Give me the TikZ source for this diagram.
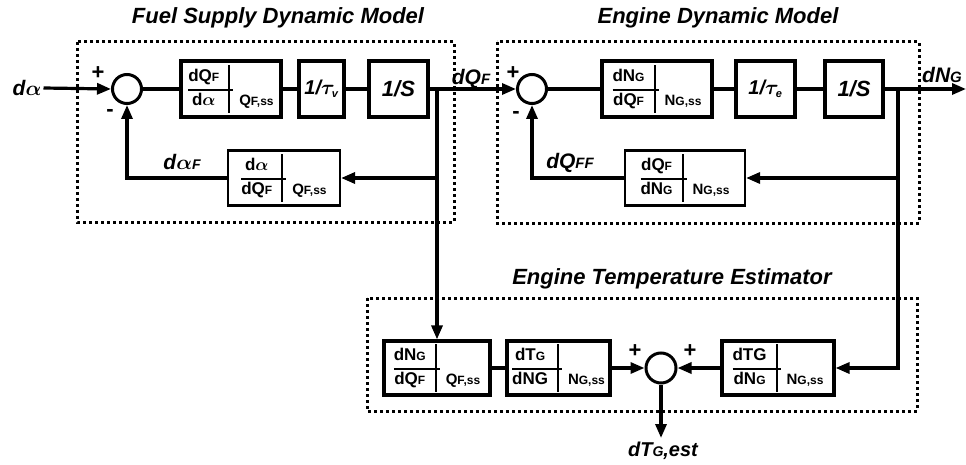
\documentclass[tikz,border=0pt]{standalone}
\usepackage{amsmath}
\usepackage{array}
\usepackage{bm}
\usepackage{fontspec}
\setmainfont{Liberation Sans}
\usetikzlibrary{arrows.meta}
\newcommand{\sm}[2][12]{{\fontsize{#1}{#1}\selectfont #2}}
\newcommand{\ev}[3]{{\setlength{\arrayrulewidth}{1.6pt}\renewcommand{\arraystretch}{1.25}%
\begin{tabular}{@{}c!{\hspace{3pt}\vrule width 2pt\hspace{3pt}}l@{}}
#1 & \\ \cline{1-1}
#2 & #3
\end{tabular}}}
\begin{document}
\begin{tikzpicture}[x=1pt,y=-1pt,
 ln/.style={line width=3.2pt},
 arr/.style={ln, -{Triangle[length=14pt,width=11pt]}},
 blk/.style={draw, line width=3.2pt, inner sep=0pt, minimum height=56pt, font=\bfseries\fontsize{17}{19}\selectfont},
 fbk/.style={blk, line width=2.2pt, minimum height=55pt},
 sumc/.style={draw, circle, line width=3pt, minimum size=29pt, inner sep=0pt},
 grp/.style={draw, line width=3pt, dash pattern=on 3pt off 3pt},
 ttl/.style={font=\bfseries\itshape\fontsize{22}{22}\selectfont, inner sep=0pt},
 lbl/.style={font=\bfseries\itshape\fontsize{21}{21}\selectfont, inner sep=0pt},
 sgn/.style={font=\bfseries\fontsize{22}{22}\selectfont, inner sep=0pt}]
\useasboundingbox (0,0) rectangle (966,465);

% group frames
\draw[grp] (77,42) rectangle (454,222);
\draw[grp] (497,42) rectangle (919,223);
\draw[grp] (367,298) rectangle (917,411);
\node[ttl] (t1) at (278,18) {Fuel Supply Dynamic Model};
\node[ttl] (t2) at (718,18) {Engine Dynamic Model};
\node[ttl] (t3) at (672,279) {Engine Temperature Estimator};

% fuel supply model
\node[lbl] (da) at (27,88) {d$\bm{\alpha}$};
\node[sumc] (s1) at (127,89) {};
\node[blk, minimum width=100pt] (b1) at (231,89) {\ev{dQ\sm{F}}{d$\bm{\alpha}$}{\sm[15]{Q}\sm{F,ss}}};
\node[blk, minimum width=45pt, font=\bfseries\itshape\fontsize{20}{20}\selectfont] (b2) at (321.5,89) {1/$\bm{\tau}_{\text{\sm[11]{v}}}$};
\node[blk, minimum width=59pt, font=\bfseries\itshape\fontsize{22}{22}\selectfont] (b3) at (398.5,89) {1/S};
\coordinate (br1) at (437,89);
\node[fbk, minimum width=112pt] (f1) at (284,178) {\ev{d$\bm{\alpha}$}{dQ\sm{F}}{\sm[15]{Q}\sm{F,ss}}};
\node[lbl] (daF) at (182,162) {d$\bm{\alpha}$\sm[14]{F}};
\node[sgn] (p1) at (98,73) {+};
\node[sgn] (m1) at (110,113) {-};
\node[lbl] (dQF) at (471,79) {dQ\sm[15]{F}};

% engine model
\node[sumc] (s2) at (532,89) {};
\node[blk, minimum width=110pt] (e1) at (657,89) {\ev{dN\sm{G}}{dQ\sm{F}}{\sm[15]{N}\sm{G,ss}}};
\node[blk, minimum width=59pt, font=\bfseries\itshape\fontsize{20}{20}\selectfont] (e2) at (765.5,89) {1/$\bm{\tau}_{\text{\sm[11]{e}}}$};
\node[blk, minimum width=58pt, font=\bfseries\itshape\fontsize{22}{22}\selectfont] (e3) at (854,89) {1/S};
\coordinate (br2) at (898,89);
\coordinate (out) at (966,89);
\node[lbl] (dNG) at (942,75) {dN\sm[15]{G}};
\node[fbk, minimum width=120pt] (e4) at (685,178) {\ev{dQ\sm{F}}{dN\sm{G}}{\sm[15]{N}\sm{G,ss}}};
\node[lbl] (dQFF) at (570,163) {dQ\sm[15]{FF}};
\node[sgn] (p2) at (513,73) {+};
\node[sgn] (m2) at (516,115) {-};

% estimator
\node[blk, minimum width=106pt, minimum height=54pt] (A) at (437,368) {\ev{dN\sm{G}}{dQ\sm{F}}{\sm[15]{Q}\sm{F,ss}}};
\node[blk, minimum width=103pt, minimum height=54pt] (B) at (558.5,368) {\ev{dT\sm{G}}{dNG}{\sm[15]{N}\sm{G,ss}}};
\node[sumc, minimum size=30pt] (s3) at (661,368) {};
\node[blk, minimum width=112pt, minimum height=54pt] (C) at (778,368) {\ev{dTG}{dN\sm{G}}{\sm[15]{N}\sm{G,ss}}};
\node[sgn] (p3) at (635,351) {+};
\node[sgn] (p4) at (690,351) {+};
\coordinate (tout) at (661,438);
\node[lbl, font=\bfseries\itshape\fontsize{20}{20}\selectfont] (dTG) at (663,451) {dT\sm[14]{G},est};

% connectors - fuel
\draw[arr] ([xshift=2pt]da.east) -- (s1.west);
\draw[ln] (s1) -- (b1);
\draw[ln] (b1) -- (b2);
\draw[ln] (b2) -- (b3);
\draw[arr] (b3.east) -- (s2.west);
\draw[arr] (br1) |- (f1.east);
\draw[arr] (f1.west) -| (s1.south);
\draw[arr] (br1) -- (A.north);
% connectors - engine
\draw[ln] (s2) -- (e1);
\draw[ln] (e1) -- (e2);
\draw[ln] (e2) -- (e3);
\draw[arr] (e3.east) -- (out);
\draw[arr] (br2) |- (e4.east);
\draw[arr] (e4.west) -| (s2.south);
\draw[arr] (br2) |- (C.east);
% connectors - estimator
\draw[ln] (A) -- (B);
\draw[arr] (B.east) -- (s3.west);
\draw[arr] (C.west) -- (s3.east);
\draw[arr] (s3.south) -- (tout);
\end{tikzpicture}
\end{document}
